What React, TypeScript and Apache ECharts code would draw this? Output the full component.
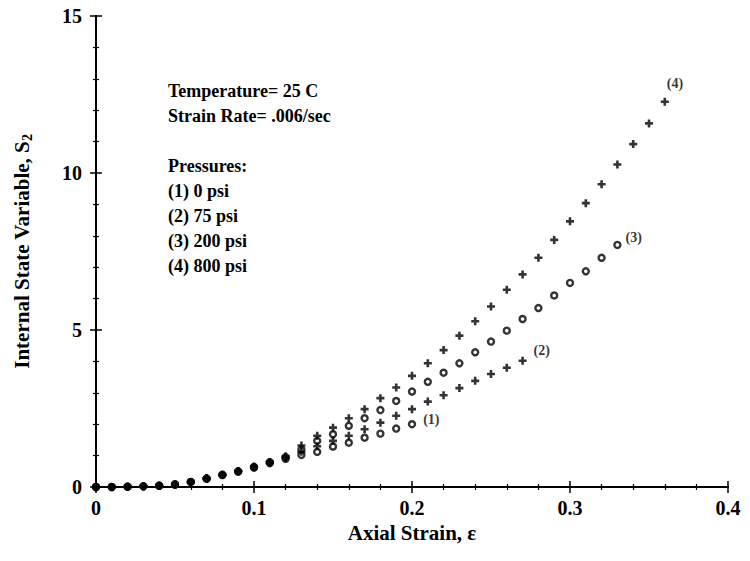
import React, { useEffect, useRef } from "react";
import * as echarts from "echarts";

// Axial strain sampled every 0.01
const STRAIN = [
  0, 0.01, 0.02, 0.03, 0.04, 0.05, 0.06, 0.07, 0.08, 0.09, 0.1, 0.11, 0.12,
  0.13, 0.14, 0.15, 0.16, 0.17, 0.18, 0.19, 0.2, 0.21, 0.22, 0.23, 0.24, 0.25,
  0.26, 0.27, 0.28, 0.29, 0.3, 0.31, 0.32, 0.33, 0.34, 0.35, 0.36,
];

// Internal state variable S2 for each confining pressure
const S2_0PSI = [
  0, 0, 0.01, 0.02, 0.04, 0.08, 0.16, 0.27, 0.38, 0.49, 0.62, 0.76, 0.9, 1.02,
  1.12, 1.29, 1.41, 1.57, 1.7, 1.86, 2.0,
];
const S2_75PSI = [
  0, 0, 0.01, 0.02, 0.04, 0.08, 0.16, 0.27, 0.38, 0.5, 0.63, 0.78, 0.93, 1.12,
  1.3, 1.47, 1.63, 1.84, 2.05, 2.27, 2.48, 2.72, 2.92, 3.15, 3.38, 3.6, 3.8,
  4.02,
];
const S2_200PSI = [
  0, 0, 0.01, 0.02, 0.04, 0.08, 0.16, 0.27, 0.39, 0.5, 0.64, 0.79, 0.95, 1.2,
  1.47, 1.68, 1.95, 2.19, 2.45, 2.74, 3.04, 3.35, 3.64, 3.94, 4.29, 4.63, 4.98,
  5.35, 5.7, 6.1, 6.5, 6.87, 7.3, 7.71,
];
const S2_800PSI = [
  0, 0, 0.01, 0.02, 0.04, 0.08, 0.16, 0.28, 0.39, 0.51, 0.65, 0.8, 0.98, 1.32,
  1.63, 1.89, 2.19, 2.48, 2.83, 3.17, 3.54, 3.94, 4.36, 4.82, 5.28, 5.75, 6.28,
  6.77, 7.3, 7.87, 8.46, 9.04, 9.64, 10.27, 10.92, 11.58, 12.27,
];

const CURVE_TAGS = ["(1)", "(2)", "(3)", "(4)"];
const NOTES = [
  "Temperature= 25 C",
  "Strain Rate= .006/sec",
  "",
  "Pressures:",
  "(1) 0 psi",
  "(2) 75 psi",
  "(3) 200 psi",
  "(4) 800 psi",
];

const SERIF = "'Liberation Serif', 'Times New Roman', serif";
// Bold plus sign used as the marker of the 75 and 800 psi runs
const PLUS = "path://M2.7,0H5.3V2.7H8V5.3H5.3V8H2.7V5.3H0V2.7H2.7Z";

type Curve = {
  values: number[];
  tag: string;
  marker: "ring" | "plus";
  tagOffset: [number, number];
};

const CURVES: Curve[] = [
  { values: S2_0PSI, tag: CURVE_TAGS[0], marker: "ring", tagOffset: [2, -5] },
  { values: S2_75PSI, tag: CURVE_TAGS[1], marker: "plus", tagOffset: [2, -10] },
  { values: S2_200PSI, tag: CURVE_TAGS[2], marker: "ring", tagOffset: [-1, -7] },
  { values: S2_800PSI, tag: CURVE_TAGS[3], marker: "plus", tagOffset: [-7, -18] },
];

function buildSeries(c: Curve) {
  const last = c.values.length - 1;
  const data = c.values.map((v, i) => {
    const point: any = { value: [STRAIN[i], v] };
    if (i === last) {
      point.label = {
        show: true,
        formatter: c.tag,
        position: "right",
        offset: c.tagOffset,
        fontFamily: SERIF,
        fontWeight: "bold",
        fontSize: 14,
        color: "#000",
      };
    }
    return point;
  });
  const ring = c.marker === "ring";
  return {
    type: "scatter",
    data,
    symbol: ring ? "circle" : PLUS,
    symbolSize: ring ? 6 : 8,
    itemStyle: ring
      ? { color: "rgba(0,0,0,0)", borderColor: "#000", borderWidth: 2.4 }
      : { color: "#000" },
    emphasis: { disabled: true },
    silent: true,
  };
}

const tickFont = {
  fontFamily: SERIF,
  fontWeight: "bold" as const,
  fontSize: 20,
  color: "#000",
};
const nameFont = { ...tickFont, fontSize: 21 };

export default function App() {
  const ref = useRef<HTMLDivElement>(null);

  useEffect(() => {
    if (!ref.current) return;
    const chart = echarts.init(ref.current, null, { renderer: "svg" });

    const frameAxis = {
      axisLine: { show: true, lineStyle: { color: "#000", width: 2 } },
      axisTick: { show: true, inside: true, length: 6, lineStyle: { color: "#000", width: 1.5 } },
      minorTick: { show: true, splitNumber: 5, length: 3, lineStyle: { color: "#000", width: 1.2 } },
      splitLine: { show: false },
      minorSplitLine: { show: false },
    };

    chart.setOption({
      animation: false,
      backgroundColor: "#fff",
      grid: { left: 96, right: 22, top: 16, bottom: 74 },
      xAxis: [
        {
          type: "value",
          min: 0,
          max: 0.4,
          interval: 0.1,
          ...frameAxis,
          axisLabel: { ...tickFont, margin: 11 },
          name: "Axial Strain, ε",
          nameLocation: "middle",
          nameGap: 31,
          nameTextStyle: nameFont,
        },
        {
          type: "value",
          position: "top",
          min: 0,
          max: 0.4,
          interval: 0.1,
          ...frameAxis,
          axisLabel: { show: false },
        },
      ],
      yAxis: [
        {
          type: "value",
          min: 0,
          max: 15,
          interval: 5,
          ...frameAxis,
          axisLabel: { ...tickFont, margin: 14 },
          name: "Internal State Variable, S{sub|2}",
          nameLocation: "middle",
          nameGap: 62,
          nameTextStyle: {
            ...nameFont,
            rich: {
              sub: {
                fontFamily: SERIF,
                fontWeight: "bold",
                fontSize: 14,
                color: "#000",
                padding: [10, 0, 0, 0],
              },
            },
          },
        },
        {
          type: "value",
          position: "right",
          min: 0,
          max: 15,
          interval: 5,
          ...frameAxis,
          axisLabel: { show: false },
        },
      ],
      graphic: NOTES.map((line, i) => ({
        type: "text",
        left: 168,
        top: 82 + i * 25,
        silent: true,
        style: {
          text: line,
          fontFamily: SERIF,
          fontWeight: "bold",
          fontSize: 18,
          fill: "#000",
        },
      })),
      series: CURVES.map(buildSeries),
    });

    return () => chart.dispose();
  }, []);

  return (
    <div
      ref={ref}
      style={{ position: "fixed", left: 0, top: 0, width: 750, height: 561, background: "#fff" }}
    />
  );
}
